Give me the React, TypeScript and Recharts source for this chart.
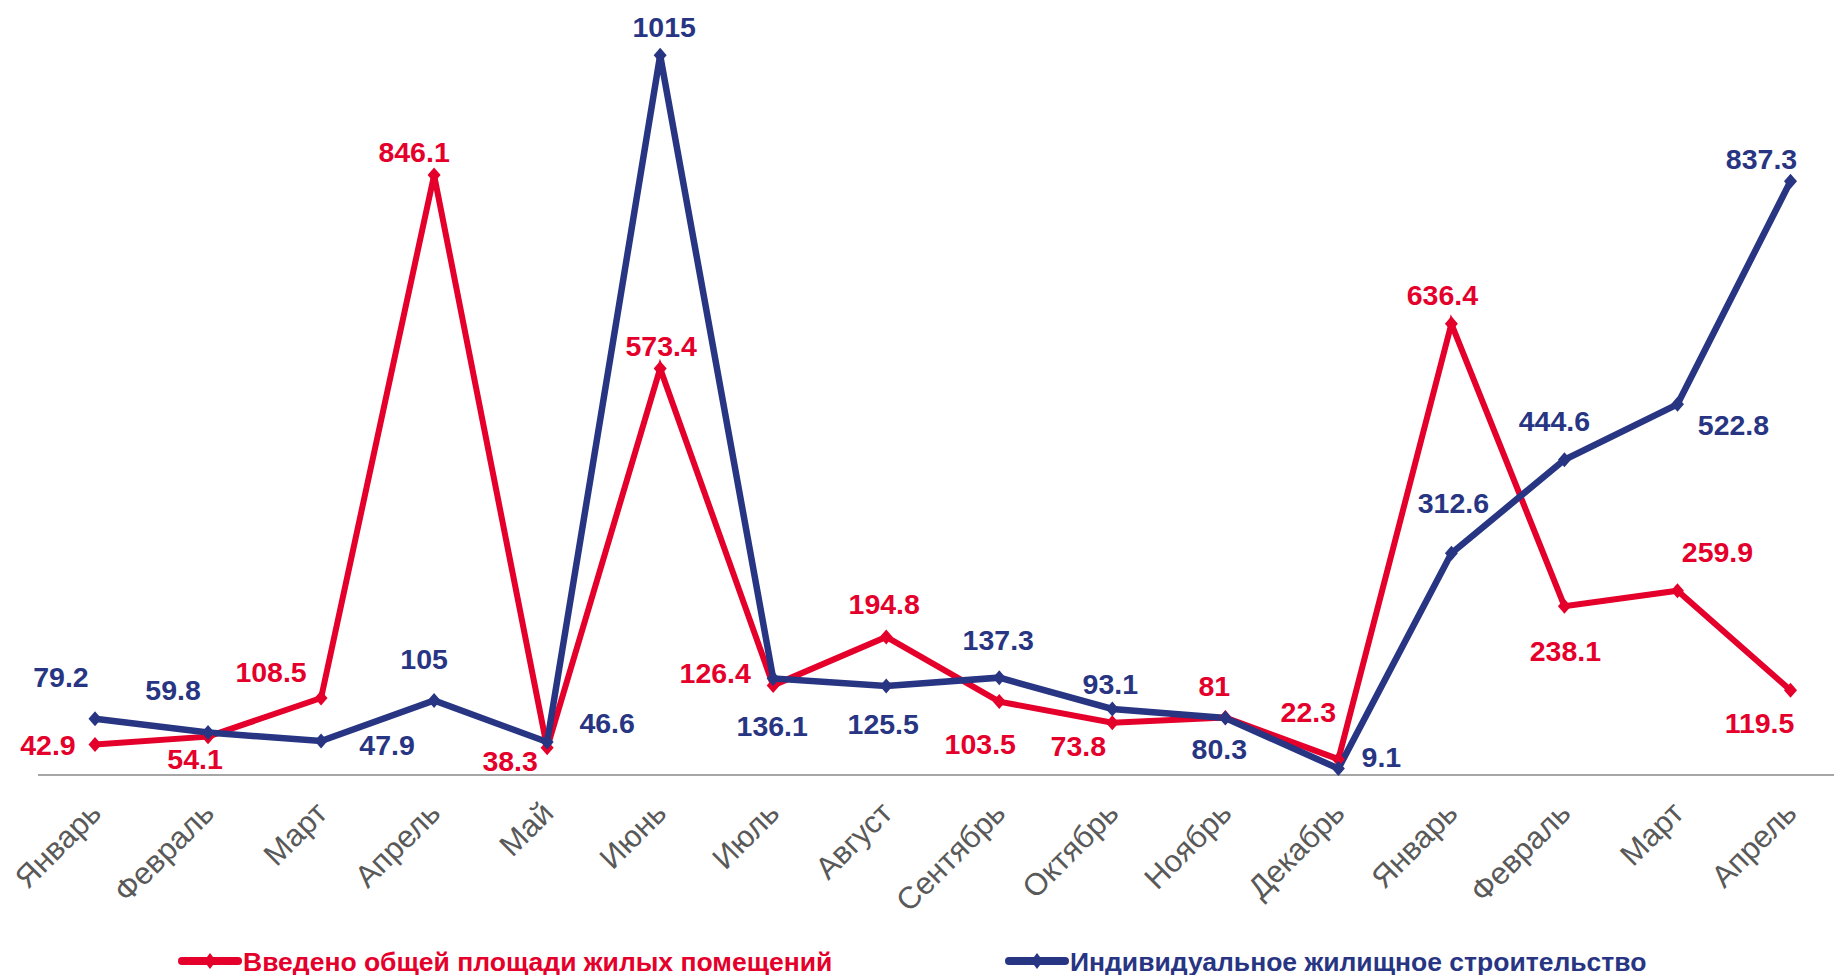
import React from 'react';
import { LineChart, Line, XAxis, YAxis, Legend } from 'recharts';

// ---- data ----
const months = [
  'Январь', 'Февраль', 'Март', 'Апрель', 'Май', 'Июнь', 'Июль', 'Август',
  'Сентябрь', 'Октябрь', 'Ноябрь', 'Декабрь', 'Январь', 'Февраль', 'Март', 'Апрель',
];
const housingTotal = [42.9, 54.1, 108.5, 846.1, 38.3, 573.4, 126.4, 194.8, 103.5, 73.8, 81, 22.3, 636.4, 238.1, 259.9, 119.5];
const individualHousing = [79.2, 59.8, 47.9, 105, 46.6, 1015, 136.1, 125.5, 137.3, 93.1, 80.3, 9.1, 312.6, 444.6, 522.8, 837.3];
const seriesNames = ['Введено общей площади жилых помещений', 'Индивидуальное жилищное строительство'];

const data = months.map((m, i) => ({ month: m, total: housingTotal[i], individual: individualHousing[i] }));

// ---- styling / layout ----
const RED = '#e4002b';
const BLUE = '#283583';
const FONT = '"Liberation Sans", Arial, Helvetica, sans-serif';
const W = 1834;
const H = 975;

// label offsets (dx, dy) relative to each point
const redLabelOffsets: [number, number][] = [
  [-47, 0], [-13, 22], [-50, -26], [-20, -23], [-37, 13], [1, -22], [-58, -12], [-2, -33],
  [-19, 42], [-34, 23], [-11, -32], [-30, -47], [-9, -29], [1, 45], [40, -39], [-31, 33],
];
const blueLabelOffsets: [number, number][] = [
  [-34, -42], [-35, -43], [66, 4], [-10, -42], [60, -19], [4, -28], [-1, 48], [-3, 38],
  [-1, -38], [-2, -25], [-6, 31], [43, -12], [2, -50], [-10, -39], [56, 21], [-29, -22],
];

const Diamond = (props: any) => {
  const { cx, cy, fill } = props;
  if (cx == null || cy == null) return null;
  const s = 6.5;
  return <path d={`M${cx},${cy - s - 1} L${cx + s},${cy} L${cx},${cy + s + 1} L${cx - s},${cy} Z`} fill={fill} stroke="none" />;
};

const makeLabel = (offsets: [number, number][], color: string) => (props: any) => {
  const { x, y, index, value } = props;
  const [dx, dy] = offsets[index] || [0, -25];
  return (
    <text
      x={x + dx}
      y={y + dy}
      textAnchor="middle"
      dominantBaseline="central"
      fill={color}
      fontSize={28.5}
      fontWeight="bold"
      fontFamily={FONT}
    >
      {value}
    </text>
  );
};

const MonthTick = (props: any) => {
  const { x, payload } = props;
  const ax = x + 8;
  const ay = 815;
  return (
    <text
      x={ax}
      y={ay}
      transform={`rotate(-45, ${ax}, ${ay})`}
      textAnchor="end"
      fill="#595959"
      fontSize={31}
      fontFamily={FONT}
    >
      {payload.value}
    </text>
  );
};

const legendItems = [
  { lineFrom: 182, lineTo: 238, textX: 243 },
  { lineFrom: 1009, lineTo: 1065, textX: 1070 },
];

const LegendContent = (props: any) => {
  const { payload } = props;
  return (
    <svg width={W} height={40} style={{ display: 'block' }}>
      {(payload || []).map((p: any, i: number) => {
        const it = legendItems[i];
        const mid = (it.lineFrom + it.lineTo) / 2;
        return (
          <g key={i}>
            <line x1={it.lineFrom} y1={20} x2={it.lineTo} y2={20} stroke={p.color} strokeWidth={8} strokeLinecap="round" />
            <path d={`M${mid},${12} L${mid + 6},${20} L${mid},${28} L${mid - 6},${20} Z`} fill={p.color} />
            <text x={it.textX} y={21} dominantBaseline="central" fill={p.color} fontSize={26.5} fontWeight="bold" fontFamily={FONT}>
              {p.value}
            </text>
          </g>
        );
      })}
    </svg>
  );
};

export default function App() {
  return (
    <div style={{ position: 'absolute', left: 0, top: 0, width: W, height: H, background: '#fff' }}>
      <LineChart width={W} height={H} data={data} margin={{ top: 30.5, right: 0, bottom: 10, left: 38 }}>
        <XAxis
          dataKey="month"
          height={190}
          padding={{ left: 57, right: 43.5 }}
          tickLine={false}
          axisLine={{ stroke: '#a6a6a6', strokeWidth: 2 }}
          tick={<MonthTick />}
          interval={0}
        />
        <YAxis hide domain={[0, 1050]} />
        <Legend
          layout="horizontal"
          verticalAlign="middle"
          align="center"
          wrapperStyle={{ left: 0, top: 941, width: W, height: 40 }}
          content={<LegendContent />}
        />
        <Line
          name={seriesNames[0]}
          dataKey="total"
          stroke={RED}
          strokeWidth={6}
          fill={RED}
          dot={<Diamond fill={RED} />}
          activeDot={false}
          isAnimationActive={false}
          label={makeLabel(redLabelOffsets, RED)}
        />
        <Line
          name={seriesNames[1]}
          dataKey="individual"
          stroke={BLUE}
          strokeWidth={6.5}
          fill={BLUE}
          dot={<Diamond fill={BLUE} />}
          activeDot={false}
          isAnimationActive={false}
          label={makeLabel(blueLabelOffsets, BLUE)}
        />
      </LineChart>
    </div>
  );
}
